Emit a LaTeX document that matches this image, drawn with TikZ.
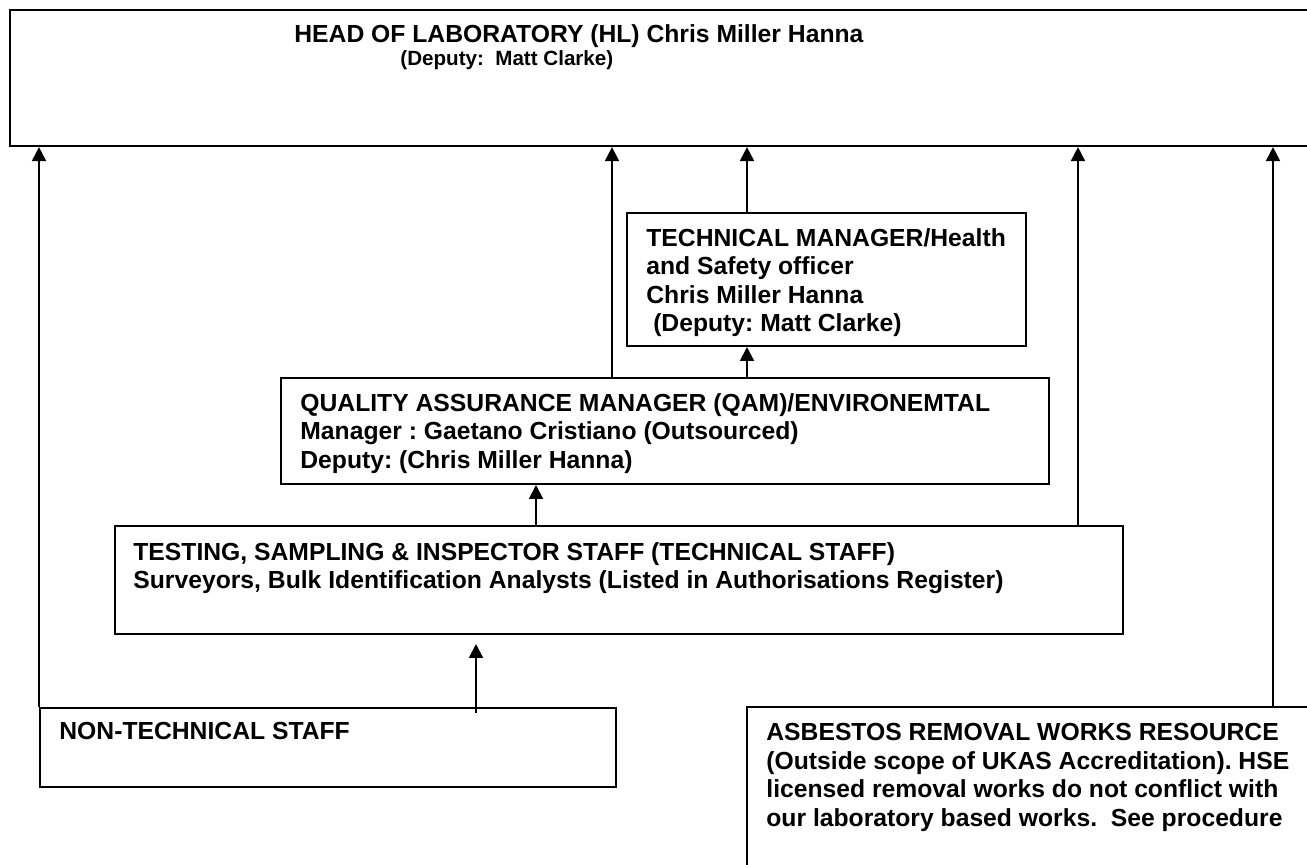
\documentclass[tikz,border=0pt]{standalone}
\usepackage{fontspec}
\setmainfont{Liberation Sans}
\usetikzlibrary{arrows.meta}
\frenchspacing

\begin{document}
\begin{tikzpicture}[
  x=0.5pt, y=-0.5pt,
  box/.style={draw, line width=1pt, anchor=north west, inner sep=0pt},
  txt/.style={anchor=north west, inner sep=0pt, align=left,
    font=\bfseries\fontsize{12.35}{14.25}\selectfont},
  up/.style={draw, line width=1pt, -{Triangle[width=7pt,length=7pt]}}
]
  \useasboundingbox (0,0) rectangle (1307,865);
  \clip (0,0) rectangle (1307,865);

  % boxes
  \node[box, minimum width=661pt, minimum height=68.2pt] (hl) at (8.7,8.7) {};
  \node[box, minimum width=199.5pt, minimum height=66.5pt] (tm) at (626,212) {};
  \node[box, minimum width=384pt, minimum height=53pt] (qam) at (280,377) {};
  \node[box, minimum width=504pt, minimum height=54pt] (tss) at (114,525) {};
  \node[box, minimum width=288pt, minimum height=39.5pt] (nts) at (39,707) {};
  \node[box, minimum width=300pt, minimum height=100pt] (arw) at (746,706) {};

  % texts
  \node[txt] (hltext) at (294,24) {HEAD OF LABORATORY (HL) Chris Miller Hanna};
  \node[txt, font=\bfseries\fontsize{10.3}{12}\selectfont] (hldep) at (400,50) {(Deputy:~ Matt Clarke)};
  \node[txt] (tmtext) at ([shift={(10pt,-8pt)}]tm.north west)
    {TECHNICAL MANAGER/Health\\and Safety officer\\Chris Miller Hanna\\\ (Deputy: Matt Clarke)};
  \node[txt] (qamtext) at ([shift={(10pt,-8pt)}]qam.north west)
    {QUALITY ASSURANCE MANAGER (QAM)/ENVIRONEMTAL\\Manager : Gaetano Cristiano (Outsourced)\\Deputy: (Chris Miller Hanna)};
  \node[txt] (tsstext) at ([shift={(9.5pt,-8.5pt)}]tss.north west)
    {TESTING, SAMPLING \& INSPECTOR STAFF (TECHNICAL STAFF)\\Surveyors, Bulk Identification Analysts (Listed in Authorisations Register)};
  \node[txt] (ntstext) at ([shift={(10pt,-7.5pt)}]nts.north west) {NON-TECHNICAL STAFF};
  \node[txt] (arwtext) at ([shift={(10pt,-8.5pt)}]arw.north west)
    {ASBESTOS REMOVAL WORKS RESOURCE\\(Outside scope of UKAS Accreditation). HSE\\licensed removal works do not conflict with\\our laboratory based works.~ See procedure};

  % reporting lines
  \coordinate (q1) at ([xshift=166pt]qam.north west);
  \coordinate (t1) at ([xshift=60.5pt]tm.north west);
  \coordinate (s1) at ([xshift=211pt]tss.north west);
  \coordinate (s2) at ([xshift=482pt]tss.north west);
  \coordinate (n1) at ([xshift=218.5pt]nts.north west);
  \coordinate (a1) at ([xshift=263.5pt]arw.north west);

  \draw[up] (nts.north west) -- (nts.north west |- hl.south);
  \draw[up] (q1) -- (q1 |- hl.south);
  \draw[up] (t1) -- (t1 |- hl.south);
  \draw[up] (t1 |- qam.north) -- (t1 |- tm.south);
  \draw[up] (s1) -- (s1 |- qam.south);
  \draw[up] (s2) -- (s2 |- hl.south);
  \draw[up] (a1) -- (a1 |- hl.south);
  \draw[up, shorten <=-3pt, shorten >=4.5pt] (n1) -- (n1 |- tss.south);
\end{tikzpicture}
\end{document}
